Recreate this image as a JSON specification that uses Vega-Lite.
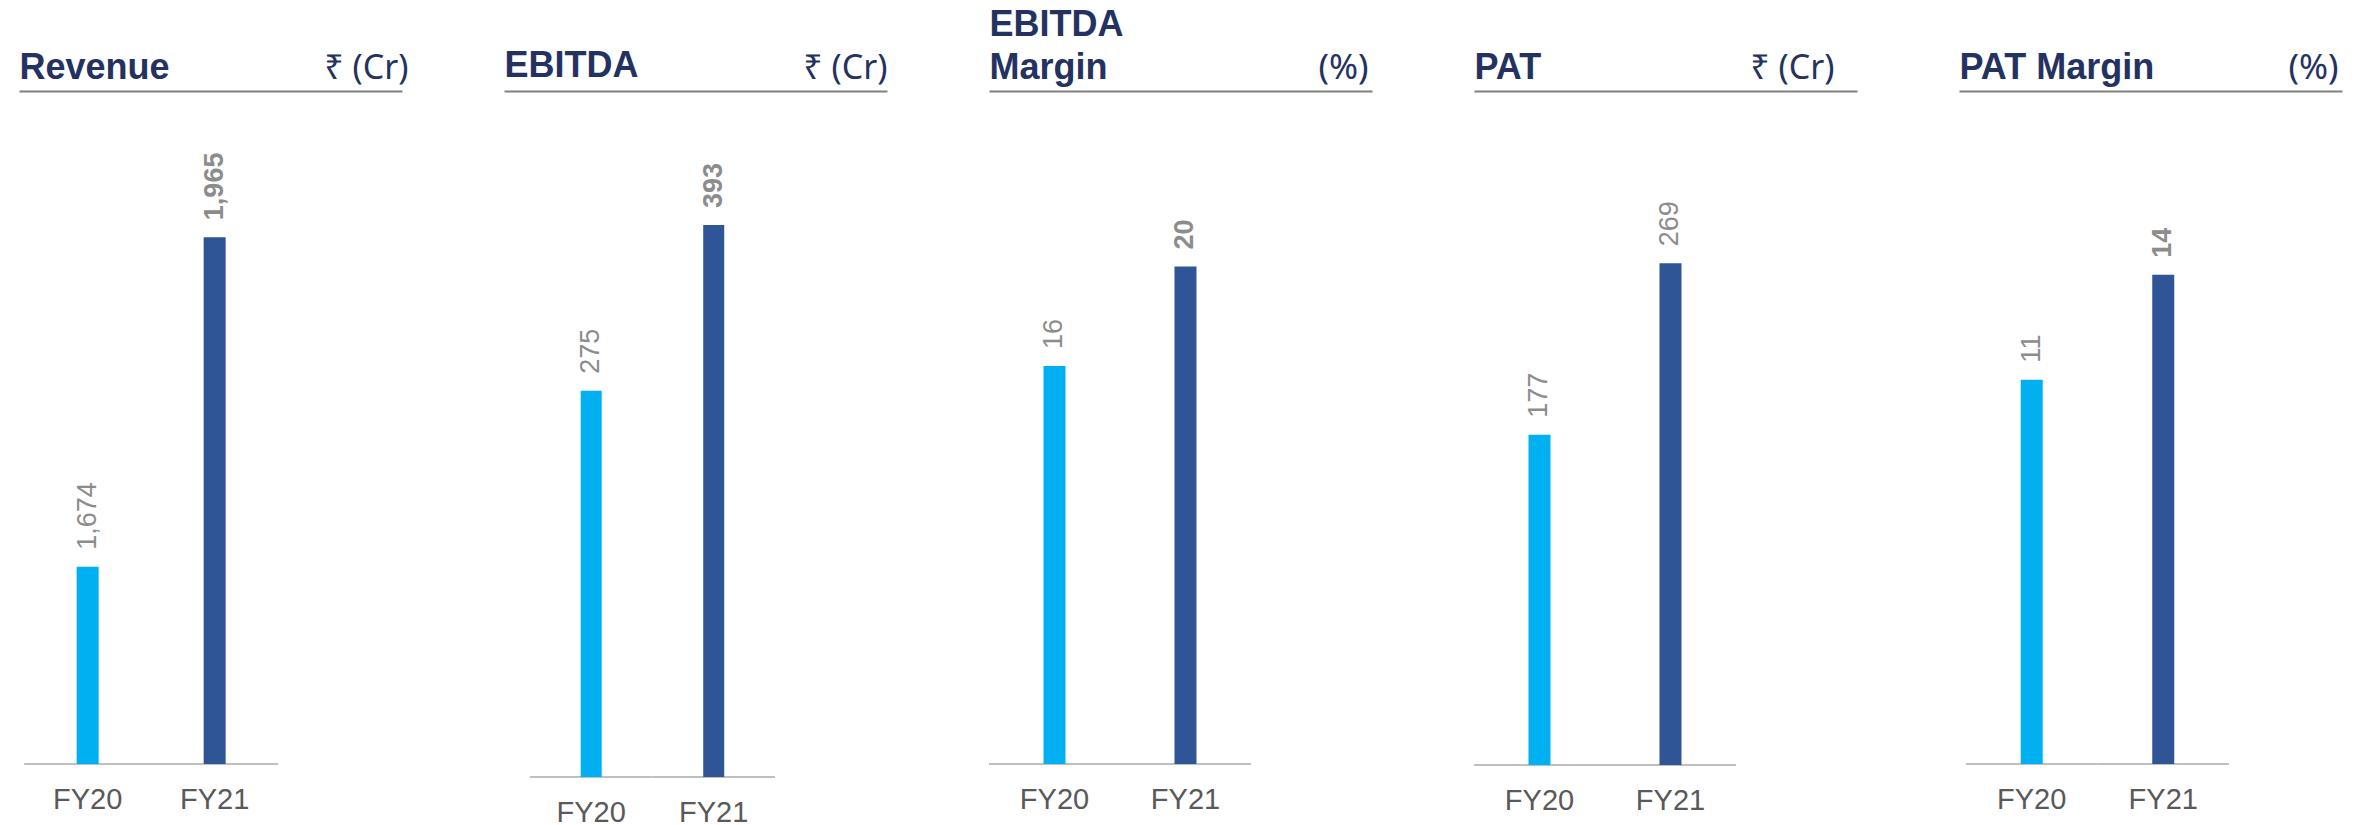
{
  "$schema": "https://vega.github.io/schema/vega-lite/v6.json",
  "padding": {"left": 19, "top": 6, "right": 10, "bottom": 0},
  "background": "white",
  "config": {"view": {"stroke": null}, "font": "Liberation Sans"},
  "datasets": {
    "fin": [
      {"metric": "Revenue", "year": "FY20", "value": 1674},
      {"metric": "Revenue", "year": "FY21", "value": 1965},
      {"metric": "EBITDA", "year": "FY20", "value": 275},
      {"metric": "EBITDA", "year": "FY21", "value": 393},
      {"metric": "EBITDA Margin", "year": "FY20", "value": 16},
      {"metric": "EBITDA Margin", "year": "FY21", "value": 20},
      {"metric": "PAT", "year": "FY20", "value": 177},
      {"metric": "PAT", "year": "FY21", "value": 269},
      {"metric": "PAT Margin", "year": "FY20", "value": 11},
      {"metric": "PAT Margin", "year": "FY21", "value": 14}
    ]
  },
  "bounds": "flush",
  "spacing": 102,
  "hconcat": [
    {
      "width": 383, "height": 673,
      "data": {"name": "fin"},
      "transform": [{"filter": "datum.metric === 'Revenue'"}],
      "resolve": {"axis": {"x": "independent"}},
      "layer": [
        {
          "mark": {"type": "rect", "fill": "transparent", "stroke": "#bfbfbf", "strokeWidth": 2},
          "encoding": {
            "x": {"field": "year", "type": "nominal", "scale": {"paddingInner": 0, "paddingOuter": 0.508, "align": 0.04},
              "axis": {"orient": "top", "title": "Revenue", "titleAnchor": "start", "titleAlign": "left", "titleX": 0, "titleY": -5, "titleBaseline": "bottom", "titleFontSize": 36, "titleFontWeight": "bold", "titleColor": "#243262", "titleFont": "Liberation Sans", "labels": false, "ticks": false, "tickSize": 0, "domain": true, "domainColor": "#808080", "domainWidth": 2, "grid": false}},
            "y": {"datum": 1500, "type": "quantitative", "scale": {"domain": [1500, 2094], "nice": false, "zero": false}, "axis": null},
            "y2": {"datum": 1500}
          }
        },
        {
          "mark": {"type": "bar", "width": 22},
          "encoding": {
            "x": {"field": "year", "type": "nominal", "axis": {"orient": "bottom", "title": null, "domain": false, "ticks": false, "tickSize": 0, "labelPadding": 21, "labelFontSize": 29, "labelColor": "#595959", "labelAngle": 0, "labelFont": "Liberation Sans", "grid": false}},
            "y": {"field": "value", "type": "quantitative", "axis": null},
            "y2": {"datum": 1500},
            "color": {"field": "year", "type": "nominal", "scale": {"domain": ["FY20", "FY21"], "range": ["#00b0f0", "#2f5597"]}, "legend": null}
          }
        },
        {
          "transform": [{"filter": "datum.year === 'FY20'"}],
          "mark": {"type": "text", "angle": 270, "align": "left", "baseline": "middle", "dx": 17, "fontSize": 27, "color": "#8c8c8c"},
          "encoding": {
            "x": {"field": "year", "type": "nominal", "axis": {"orient": "top", "title": "₹ (Cr)", "titleAnchor": "end", "titleAlign": "right", "titleX": 389, "titleY": -6, "titleBaseline": "bottom", "titleFontSize": 34, "titleFontWeight": "normal", "titleFont": "Noto Sans", "titleColor": "#243262", "labels": false, "ticks": false, "tickSize": 0, "domain": false, "grid": false}},
            "y": {"field": "value", "type": "quantitative", "axis": null},
            "text": {"field": "value", "type": "quantitative", "format": ","}
          }
        },
        {
          "transform": [{"filter": "datum.year === 'FY21'"}],
          "mark": {"type": "text", "angle": 270, "align": "left", "baseline": "middle", "dx": 17, "fontSize": 27, "fontWeight": "bold", "color": "#8c8c8c"},
          "encoding": {
            "x": {"field": "year", "type": "nominal", "axis": null},
            "y": {"field": "value", "type": "quantitative", "axis": null},
            "text": {"field": "value", "type": "quantitative", "format": ","}
          }
        }
      ]
    },
    {
      "width": 383, "height": 686,
      "data": {"name": "fin"},
      "transform": [{"filter": "datum.metric === 'EBITDA'"}],
      "resolve": {"axis": {"x": "independent"}},
      "layer": [
        {
          "mark": {"type": "rect", "fill": "transparent", "stroke": "#bfbfbf", "strokeWidth": 2},
          "encoding": {
            "x": {"field": "year", "type": "nominal", "scale": {"paddingInner": 0, "paddingOuter": 0.563, "align": 0.188},
              "axis": {"orient": "top", "title": "EBITDA", "titleAnchor": "start", "titleAlign": "left", "titleX": 0, "titleY": -7, "titleBaseline": "bottom", "titleFontSize": 36, "titleFontWeight": "bold", "titleColor": "#243262", "titleFont": "Liberation Sans", "labels": false, "ticks": false, "tickSize": 0, "domain": true, "domainColor": "#808080", "domainWidth": 2, "grid": false}},
            "y": {"datum": 0, "type": "quantitative", "scale": {"domain": [0, 488.4], "nice": false}, "axis": null},
            "y2": {"datum": 0}
          }
        },
        {
          "mark": {"type": "bar", "width": 21},
          "encoding": {
            "x": {"field": "year", "type": "nominal", "axis": {"orient": "bottom", "title": null, "domain": false, "ticks": false, "tickSize": 0, "labelPadding": 21, "labelFontSize": 29, "labelColor": "#595959", "labelAngle": 0, "labelFont": "Liberation Sans", "grid": false}},
            "y": {"field": "value", "type": "quantitative", "axis": null},
            "y2": {"datum": 0},
            "color": {"field": "year", "type": "nominal", "scale": {"domain": ["FY20", "FY21"], "range": ["#00b0f0", "#2f5597"]}, "legend": null}
          }
        },
        {
          "transform": [{"filter": "datum.year === 'FY20'"}],
          "mark": {"type": "text", "angle": 270, "align": "left", "baseline": "middle", "dx": 17, "fontSize": 27, "color": "#8c8c8c"},
          "encoding": {
            "x": {"field": "year", "type": "nominal", "axis": {"orient": "top", "title": "₹ (Cr)", "titleAnchor": "end", "titleAlign": "right", "titleX": 383, "titleY": -6, "titleBaseline": "bottom", "titleFontSize": 34, "titleFontWeight": "normal", "titleFont": "Noto Sans", "titleColor": "#243262", "labels": false, "ticks": false, "tickSize": 0, "domain": false, "grid": false}},
            "y": {"field": "value", "type": "quantitative", "axis": null},
            "text": {"field": "value", "type": "quantitative", "format": ","}
          }
        },
        {
          "transform": [{"filter": "datum.year === 'FY21'"}],
          "mark": {"type": "text", "angle": 270, "align": "left", "baseline": "middle", "dx": 17, "fontSize": 27, "fontWeight": "bold", "color": "#8c8c8c"},
          "encoding": {
            "x": {"field": "year", "type": "nominal", "axis": null},
            "y": {"field": "value", "type": "quantitative", "axis": null},
            "text": {"field": "value", "type": "quantitative", "format": ","}
          }
        }
      ]
    },
    {
      "width": 383, "height": 673,
      "data": {"name": "fin"},
      "transform": [{"filter": "datum.metric === 'EBITDA Margin'"}],
      "resolve": {"axis": {"x": "independent"}},
      "layer": [
        {
          "mark": {"type": "rect", "fill": "transparent", "stroke": "#bfbfbf", "strokeWidth": 2},
          "encoding": {
            "x": {"field": "year", "type": "nominal", "scale": {"paddingInner": 0, "paddingOuter": 0.462, "align": 0},
              "axis": {"orient": "top", "title": ["EBITDA", "Margin"], "titleAnchor": "start", "titleAlign": "left", "titleX": 0, "titleY": -48, "titleBaseline": "bottom", "titleLineHeight": 43, "titleFontSize": 36, "titleFontWeight": "bold", "titleColor": "#243262", "titleFont": "Liberation Sans", "labels": false, "ticks": false, "tickSize": 0, "domain": true, "domainColor": "#808080", "domainWidth": 2, "grid": false}},
            "y": {"datum": 0, "type": "quantitative", "scale": {"domain": [0, 27.05], "nice": false}, "axis": null},
            "y2": {"datum": 0}
          }
        },
        {
          "mark": {"type": "bar", "width": 22},
          "encoding": {
            "x": {"field": "year", "type": "nominal", "axis": {"orient": "bottom", "title": null, "domain": false, "ticks": false, "tickSize": 0, "labelPadding": 21, "labelFontSize": 29, "labelColor": "#595959", "labelAngle": 0, "labelFont": "Liberation Sans", "grid": false}},
            "y": {"field": "value", "type": "quantitative", "axis": null},
            "y2": {"datum": 0},
            "color": {"field": "year", "type": "nominal", "scale": {"domain": ["FY20", "FY21"], "range": ["#00b0f0", "#2f5597"]}, "legend": null}
          }
        },
        {
          "transform": [{"filter": "datum.year === 'FY20'"}],
          "mark": {"type": "text", "angle": 270, "align": "left", "baseline": "middle", "dx": 17, "fontSize": 27, "color": "#8c8c8c"},
          "encoding": {
            "x": {"field": "year", "type": "nominal", "axis": {"orient": "top", "title": "(%)", "titleAnchor": "end", "titleAlign": "right", "titleX": 379, "titleY": -6, "titleBaseline": "bottom", "titleFontSize": 35, "titleFontWeight": "normal", "titleFont": "Noto Sans", "titleColor": "#243262", "labels": false, "ticks": false, "tickSize": 0, "domain": false, "grid": false}},
            "y": {"field": "value", "type": "quantitative", "axis": null},
            "text": {"field": "value", "type": "quantitative", "format": ","}
          }
        },
        {
          "transform": [{"filter": "datum.year === 'FY21'"}],
          "mark": {"type": "text", "angle": 270, "align": "left", "baseline": "middle", "dx": 17, "fontSize": 27, "fontWeight": "bold", "color": "#8c8c8c"},
          "encoding": {
            "x": {"field": "year", "type": "nominal", "axis": null},
            "y": {"field": "value", "type": "quantitative", "axis": null},
            "text": {"field": "value", "type": "quantitative", "format": ","}
          }
        }
      ]
    },
    {
      "width": 383, "height": 674,
      "data": {"name": "fin"},
      "transform": [{"filter": "datum.metric === 'PAT'"}],
      "resolve": {"axis": {"x": "independent"}},
      "layer": [
        {
          "mark": {"type": "rect", "fill": "transparent", "stroke": "#bfbfbf", "strokeWidth": 2},
          "encoding": {
            "x": {"field": "year", "type": "nominal", "scale": {"paddingInner": 0, "paddingOuter": 0.462, "align": 0},
              "axis": {"orient": "top", "title": "PAT", "titleAnchor": "start", "titleAlign": "left", "titleX": 0, "titleY": -5, "titleBaseline": "bottom", "titleFontSize": 36, "titleFontWeight": "bold", "titleColor": "#243262", "titleFont": "Liberation Sans", "labels": false, "ticks": false, "tickSize": 0, "domain": true, "domainColor": "#808080", "domainWidth": 2, "grid": false}},
            "y": {"datum": 0, "type": "quantitative", "scale": {"domain": [0, 361.3], "nice": false}, "axis": null},
            "y2": {"datum": 0}
          }
        },
        {
          "mark": {"type": "bar", "width": 22},
          "encoding": {
            "x": {"field": "year", "type": "nominal", "axis": {"orient": "bottom", "title": null, "domain": false, "ticks": false, "tickSize": 0, "labelPadding": 21, "labelFontSize": 29, "labelColor": "#595959", "labelAngle": 0, "labelFont": "Liberation Sans", "grid": false}},
            "y": {"field": "value", "type": "quantitative", "axis": null},
            "y2": {"datum": 0},
            "color": {"field": "year", "type": "nominal", "scale": {"domain": ["FY20", "FY21"], "range": ["#00b0f0", "#2f5597"]}, "legend": null}
          }
        },
        {
          "mark": {"type": "text", "angle": 270, "align": "left", "baseline": "middle", "dx": 17, "fontSize": 27, "color": "#8c8c8c"},
          "encoding": {
            "x": {"field": "year", "type": "nominal", "axis": {"orient": "top", "title": "₹ (Cr)", "titleAnchor": "end", "titleAlign": "right", "titleX": 360, "titleY": -6, "titleBaseline": "bottom", "titleFontSize": 34, "titleFontWeight": "normal", "titleFont": "Noto Sans", "titleColor": "#243262", "labels": false, "ticks": false, "tickSize": 0, "domain": false, "grid": false}},
            "y": {"field": "value", "type": "quantitative", "axis": null},
            "text": {"field": "value", "type": "quantitative", "format": ","}
          }
        }
      ]
    },
    {
      "width": 383, "height": 673,
      "data": {"name": "fin"},
      "transform": [{"filter": "datum.metric === 'PAT Margin'"}],
      "resolve": {"axis": {"x": "independent"}},
      "layer": [
        {
          "mark": {"type": "rect", "fill": "transparent", "stroke": "#bfbfbf", "strokeWidth": 2},
          "encoding": {
            "x": {"field": "year", "type": "nominal", "scale": {"paddingInner": 0, "paddingOuter": 0.456, "align": 0.058},
              "axis": {"orient": "top", "title": "PAT Margin", "titleAnchor": "start", "titleAlign": "left", "titleX": 0, "titleY": -5, "titleBaseline": "bottom", "titleFontSize": 36, "titleFontWeight": "bold", "titleColor": "#243262", "titleFont": "Liberation Sans", "labels": false, "ticks": false, "tickSize": 0, "domain": true, "domainColor": "#808080", "domainWidth": 2, "grid": false}},
            "y": {"datum": 0, "type": "quantitative", "scale": {"domain": [0, 19.26], "nice": false}, "axis": null},
            "y2": {"datum": 0}
          }
        },
        {
          "mark": {"type": "bar", "width": 22},
          "encoding": {
            "x": {"field": "year", "type": "nominal", "axis": {"orient": "bottom", "title": null, "domain": false, "ticks": false, "tickSize": 0, "labelPadding": 21, "labelFontSize": 29, "labelColor": "#595959", "labelAngle": 0, "labelFont": "Liberation Sans", "grid": false}},
            "y": {"field": "value", "type": "quantitative", "axis": null},
            "y2": {"datum": 0},
            "color": {"field": "year", "type": "nominal", "scale": {"domain": ["FY20", "FY21"], "range": ["#00b0f0", "#2f5597"]}, "legend": null}
          }
        },
        {
          "transform": [{"filter": "datum.year === 'FY20'"}],
          "mark": {"type": "text", "angle": 270, "align": "left", "baseline": "middle", "dx": 17, "fontSize": 27, "color": "#8c8c8c"},
          "encoding": {
            "x": {"field": "year", "type": "nominal", "axis": {"orient": "top", "title": "(%)", "titleAnchor": "end", "titleAlign": "right", "titleX": 379, "titleY": -6, "titleBaseline": "bottom", "titleFontSize": 35, "titleFontWeight": "normal", "titleFont": "Noto Sans", "titleColor": "#243262", "labels": false, "ticks": false, "tickSize": 0, "domain": false, "grid": false}},
            "y": {"field": "value", "type": "quantitative", "axis": null},
            "text": {"field": "value", "type": "quantitative", "format": ","}
          }
        },
        {
          "transform": [{"filter": "datum.year === 'FY21'"}],
          "mark": {"type": "text", "angle": 270, "align": "left", "baseline": "middle", "dx": 17, "fontSize": 27, "fontWeight": "bold", "color": "#8c8c8c"},
          "encoding": {
            "x": {"field": "year", "type": "nominal", "axis": null},
            "y": {"field": "value", "type": "quantitative", "axis": null},
            "text": {"field": "value", "type": "quantitative", "format": ","}
          }
        }
      ]
    }
  ]
}
